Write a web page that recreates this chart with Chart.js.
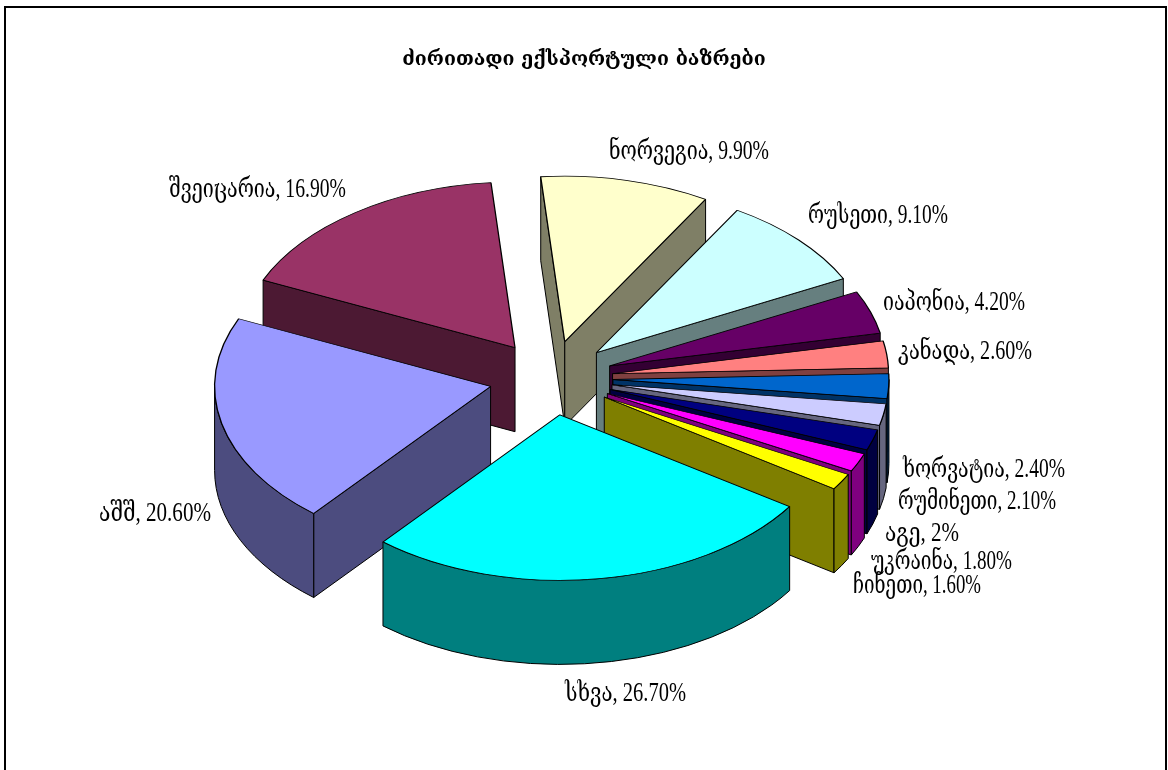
<!DOCTYPE html>
<html>
<head>
<meta charset="utf-8">
<style>html,body{margin:0;padding:0;background:#fff}canvas{display:block}</style>
<script src="https://cdn.jsdelivr.net/npm/chart.js@4"></script>
</head>
<body>
<canvas id="c" width="1168" height="770"></canvas>
<script>
const chartTitle = "ძირითადი ექსპორტული ბაზრები";
const categories = ["ნორვეგია","რუსეთი","იაპონია","კანადა","ხორვატია","რუმინეთი","აგე","უკრაინა","ჩინეთი","სხვა","აშშ","შვეიცარია"];
const values = [9.9,9.1,4.2,2.6,2.4,2.1,2,1.8,1.6,26.7,20.6,16.9];
const valueLabels = ["9.90%","9.10%","4.20%","2.60%","2.40%","2.10%","2%","1.80%","1.60%","26.70%","20.60%","16.90%"];
const colors = ["#FFFFCC","#CCFFFF","#660066","#FF8080","#0066CC","#CCCCFF","#000080","#FF00FF","#FFFF00","#00FFFF","#9999FF","#993366"];

// Projection styling of the 3D pie
const CX = 551, CY = 378, TILT = 0.6, DEPTH = 84, EXPLODE = 62;
// Label placement: left, right, vertical centre
const labelBoxes = [[609,769,152],[808,948,216],[883,1025,303],[898,1032,352],[903,1065,470],[898,1056,502],[885,959,534],[871,1012,562],[853,981,586],[565,686,694],[99,211,514],[169,346,190]];

function shade(hex){
  const n = parseInt(hex.slice(1),16);
  return `rgb(${(n>>16&255)>>1},${(n>>8&255)>>1},${(n&255)>>1})`;
}

const pie3d = {
  id:'pie3d',
  beforeDatasetsDraw(chart){
    const ctx = chart.ctx;
    const arcs = chart.getDatasetMeta(0).data.map((a,i)=>({a,i}));
    const mid = o => (o.a.startAngle+o.a.endAngle)/2;
    arcs.sort((p,q)=>Math.sin(mid(p))-Math.sin(mid(q)));
    ctx.save();
    ctx.lineJoin='round';
    for(const o of arcs){
      const a=o.a, R=a.outerRadius, m=mid(o);
      const x0=CX+Math.cos(m)*EXPLODE, y0=CY+Math.sin(m)*EXPLODE*TILT;
      const rim=t=>[x0+Math.cos(t)*R, y0+Math.sin(t)*R*TILT];
      ctx.fillStyle=shade(colors[o.i]);
      ctx.strokeStyle='#000';
      ctx.lineWidth=1;
      // radial faces that look towards the viewer
      const faces=[];
      if(Math.cos(a.startAngle)<0) faces.push(a.startAngle);
      if(Math.cos(a.endAngle)>0) faces.push(a.endAngle);
      for(const t of faces){
        const p=rim(t);
        ctx.beginPath();
        ctx.moveTo(x0,y0);ctx.lineTo(p[0],p[1]);ctx.lineTo(p[0],p[1]+DEPTH);ctx.lineTo(x0,y0+DEPTH);ctx.closePath();
        ctx.fill();ctx.stroke();
      }
      // outer wall: lower half of the rim only
      for(const k of [-1,0,1]){
        const lo=Math.max(a.startAngle,k*2*Math.PI), hi=Math.min(a.endAngle,Math.PI+k*2*Math.PI);
        if(hi<=lo) continue;
        ctx.beginPath();
        ctx.ellipse(x0,y0,R,R*TILT,0,lo,hi,false);
        ctx.ellipse(x0,y0+DEPTH,R,R*TILT,0,hi,lo,true);
        ctx.closePath();
        ctx.fill();ctx.stroke();
      }
      // top face: the library's own arc element, squashed
      ctx.save();
      ctx.translate(x0,y0);ctx.scale(1,TILT);ctx.translate(-a.x,-a.y);
      a.draw(ctx);
      ctx.restore();
    }
    ctx.restore();
    return false;
  },
  afterDraw(chart){
    const ctx=chart.ctx;
    ctx.save();
    ctx.strokeStyle='#000';ctx.lineWidth=2;
    ctx.beginPath();ctx.moveTo(5,775);ctx.lineTo(5,7);ctx.lineTo(1166,7);ctx.lineTo(1166,775);ctx.stroke();
    ctx.fillStyle='#000';ctx.textBaseline='middle';ctx.textAlign='left';
    ctx.font='27px "Liberation Serif","DejaVu Serif"';
    categories.forEach((c,i)=>{
      const b=labelBoxes[i];
      ctx.fillText(c+", "+valueLabels[i],b[0],b[2],b[1]-b[0]);
    });
    ctx.restore();
  }
};

new Chart(document.getElementById('c'),{
  type:'pie',
  data:{labels:categories,datasets:[{data:values,backgroundColor:colors,borderColor:'#000',borderWidth:1.3,radius:276,clip:false}]},
  options:{
    responsive:false,animation:false,rotation:-5,
    layout:{padding:0},
    plugins:{
      legend:{display:false},tooltip:{enabled:false},
      title:{display:true,text:chartTitle,color:'#000',align:'center',padding:{top:48,bottom:10},
        font:{family:'"DejaVu Serif"',size:19.5,weight:'bold'}}
    }
  },
  plugins:[pie3d]
});
</script>
</body>
</html>
